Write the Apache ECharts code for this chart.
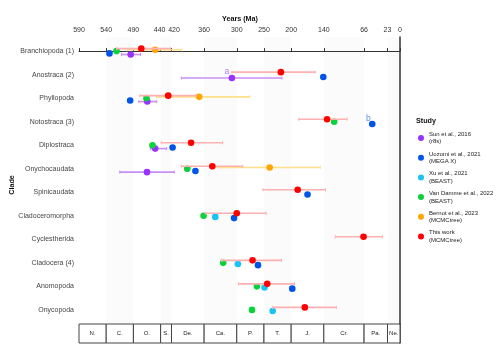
<!DOCTYPE html>
<html><head><meta charset="utf-8">
<script src="https://cdn.jsdelivr.net/npm/echarts@6/dist/echarts.min.js"></script>
<style>html,body{margin:0;padding:0;background:#fff}#c{width:504px;height:360px}</style>
</head><body><div id="c"></div>
<script>
const clades = ['Branchiopoda (1)','Anostraca (2)','Phyllopoda','Notostraca (3)','Diplostraca','Onychocaudata','Spinicaudata','Cladoceromorpha','Cyclestherida','Cladocera (4)','Anomopoda','Onycopoda'];
const xTicks = [590,540,490,440,420,360,300,250,200,140,66,23,0];
const periodNames = ['N.','C.','O.','S.','De.','Ca.','P.','T.','J.','Cr.','Pa.','Ne.'];
const periodStart = [590,540,490,440,420,360,300,250,200,140,66,23];
const periodEnd   = [540,490,440,420,360,300,250,200,140,66,23,0];

// [clade, estimate (Ma), lower, upper]
const sun2016 = [
  ['Branchiopoda (1)',495,512,477],
  ['Anostraca (2)',309,402,217],
  ['Phyllopoda',464.5,480,447],
  ['Diplostraca',450,459,429],
  ['Onychocaudata',465,515,415]
];
const uozomi2021 = [
  ['Branchiopoda (1)',534],['Anostraca (2)',141],['Phyllopoda',496],['Notostraca (3)',51],
  ['Diplostraca',418],['Onychocaudata',376],['Spinicaudata',170],['Cladoceromorpha',305],
  ['Cladocera (4)',261],['Anomopoda',198]
];
const xu2021 = [
  ['Cladoceromorpha',339.5],['Cladocera (4)',298],['Anomopoda',249],['Onycopoda',234]
];
const vanDamme2022 = [
  ['Branchiopoda (1)',521],['Phyllopoda',466],['Notostraca (3)',121],['Diplostraca',455],
  ['Onychocaudata',391],['Cladoceromorpha',361],['Cladocera (4)',325],['Anomopoda',263],['Onycopoda',272]
];
const bernot2023 = [
  ['Branchiopoda (1)',450,502,401],
  ['Phyllopoda',369,447,276],
  ['Onychocaudata',239.5,343,146.5]
];
const thisWork = [
  ['Branchiopoda (1)',475.5,521,421.5],
  ['Anostraca (2)',219,309,156],
  ['Phyllopoda',426,478,375],
  ['Notostraca (3)',134,186,97],
  ['Diplostraca',384,439,326],
  ['Onychocaudata',345,402,289],
  ['Spinicaudata',188,252,137],
  ['Cladoceromorpha',300,358,246],
  ['Cyclestherida',67,119,32],
  ['Cladocera (4)',271,328,218],
  ['Anomopoda',244,297,194],
  ['Onycopoda',175,234,117]
];
const studyNames = ['Sun et al., 2016\n(r8s)','Uozomi et al., 2021\n(MEGA X)','Xu et al., 2021\n(BEAST)','Van Damme et al., 2022\n(BEAST)','Bernot et al., 2023\n(MCMCtree)','This work\n(MCMCtree)'];
const notes = [['a','Anostraca (2)',318],['b','Notostraca (3)',58]];

const FONT = 'Liberation Sans, Arial, sans-serif';
const studies = [
  {name: studyNames[0], data: sun2016, color: '#9933FF', bar: '#C890F3', off: 3.4},
  {name: studyNames[1], data: uozomi2021, color: '#0055E8', bar: '#8AAEF0', off: 2.3},
  {name: studyNames[2], data: xu2021, color: '#19C3F3', bar: '#9ADFF5', off: 1.1},
  {name: studyNames[3], data: vanDamme2022, color: '#0BD13A', bar: '#95E8A8', off: 0},
  {name: studyNames[4], data: bernot2023, color: '#FFA500', bar: '#FFE08A', off: -1.3},
  {name: studyNames[5], data: thisWork, color: '#FF0000', bar: '#FFB0B0', off: -2.5}
];

function studySeries(s) {
  return {
    type: 'custom', name: s.name, xAxisIndex: 0, yAxisIndex: 0,
    itemStyle: {color: s.color},
    encode: {x: [0, 2, 3], y: 1},
    z: s.off < -2 ? 10 : 5,
    data: s.data.map(d => [d[1], clades.indexOf(d[0]), d.length > 2 ? d[2] : NaN, d.length > 2 ? d[3] : NaN]),
    renderItem: function (params, api) {
      const est = api.value(0), idx = api.value(1), lo = api.value(2), hi = api.value(3);
      const p = api.coord([est, idx]);
      const y = p[1] + s.off;
      const ch = [];
      if (isFinite(lo) && isFinite(hi)) {
        const a = api.coord([lo, idx])[0], b = api.coord([hi, idx])[0];
        const st = {stroke: s.bar, lineWidth: 1.6};
        ch.push({type: 'line', shape: {x1: a, y1: y, x2: b, y2: y}, style: st});
        ch.push({type: 'line', shape: {x1: a, y1: y - 1.6, x2: a, y2: y + 1.6}, style: {stroke: s.bar, lineWidth: 1}});
        ch.push({type: 'line', shape: {x1: b, y1: y - 1.6, x2: b, y2: y + 1.6}, style: {stroke: s.bar, lineWidth: 1}});
      }
      ch.push({type: 'circle', shape: {cx: p[0], cy: y, r: 3.3}, style: {fill: s.color}});
      return {type: 'group', children: ch};
    }
  };
}

const bandSeries = {
  type: 'custom', xAxisIndex: 0, yAxisIndex: 0, silent: true, z: 0,
  data: periodStart.map((v, i) => [v, periodEnd[i], i]),
  encode: {x: [0, 1]},
  renderItem: function (params, api) {
    const a = api.coord([api.value(0), -0.6]);
    const b = api.coord([api.value(1), 11.6]);
    return {type: 'rect', shape: {x: a[0], y: a[1], width: b[0] - a[0], height: b[1] - a[1]},
      style: {fill: api.value(2) % 2 === 1 ? '#fbfbfb' : '#ffffff'}};
  }
};

const periodSeries = {
  type: 'custom', xAxisIndex: 1, yAxisIndex: 1, silent: true,
  data: periodStart.map((v, i) => [v, periodEnd[i], i]),
  encode: {x: [0, 1]},
  renderItem: function (params, api) {
    const a = api.coord([api.value(0), 1]);
    const b = api.coord([api.value(1), 0]);
    return {type: 'group', children: [
      {type: 'rect', shape: {x: a[0], y: a[1], width: b[0] - a[0], height: b[1] - a[1]},
        style: {fill: '#fff', stroke: '#444', lineWidth: 1}},
      {type: 'text', style: {x: (a[0] + b[0]) / 2, y: (a[1] + b[1]) / 2, text: periodNames[api.value(2)],
        align: 'center', verticalAlign: 'middle', fontSize: 6, fontFamily: FONT, fill: '#222'}}
    ]};
  }
};

const noteColors = {a: '#B57BEA', b: '#5B8DEF'};
const noteSeries = {
  type: 'custom', xAxisIndex: 0, yAxisIndex: 0, silent: true, z: 12,
  data: notes.map(n => [n[2], clades.indexOf(n[1]), n[0]]),
  encode: {x: 0, y: 1},
  renderItem: function (params, api) {
    const p = api.coord([api.value(0), api.value(1)]);
    const t = notes[params.dataIndex][0];
    return {type: 'text', style: {x: p[0], y: p[1] - 3, text: t, align: 'center', verticalAlign: 'middle',
      fontSize: 8.5, fontFamily: FONT, fill: noteColors[t]}};
  }
};

const chart = echarts.init(document.getElementById('c'), null, {renderer: 'canvas'});
chart.setOption({
  animation: false,
  backgroundColor: '#fff',
  textStyle: {fontFamily: FONT},
  grid: [
    {left: 79, right: 104, top: 37, height: 287},
    {left: 79, right: 104, top: 324, height: 19}
  ],
  xAxis: [
    {type: 'value', gridIndex: 0, position: 'top', inverse: true, min: 0, max: 590,
      axisLine: {show: true, lineStyle: {color: '#333', width: 1}},
      axisTick: {show: true, length: 3, customValues: xTicks, lineStyle: {color: '#333'}},
      axisLabel: {customValues: xTicks, fontSize: 7, color: '#333', margin: 3, fontFamily: FONT,
        hideOverlap: false,
        formatter: v => v === 420 ? '{r|420}' : (v === 440 ? '{l|440}' : String(v)),
        rich: {r: {fontSize: 7, color: '#333', padding: [0, 0, 0, 5]}, l: {fontSize: 7, color: '#333', padding: [0, 2, 0, 0]}}},
      splitLine: {show: false}},
    {type: 'value', gridIndex: 1, inverse: true, min: 0, max: 590, show: false}
  ],
  yAxis: [
    {type: 'value', gridIndex: 0, inverse: true, min: -0.6, max: 11.6,
      axisLine: {show: true, lineStyle: {color: '#333', width: 1.5}},
      axisTick: {show: false},
      axisLabel: {customValues: clades.map((c, i) => i), formatter: v => clades[v] || '',
        fontSize: 7, color: '#444', margin: 5, fontFamily: FONT},
      splitLine: {show: false}},
    {type: 'value', gridIndex: 1, min: 0, max: 1,
      axisLine: {show: true, lineStyle: {color: '#333', width: 1.5}},
      axisTick: {show: false}, axisLabel: {show: false}, splitLine: {show: false}}
  ],
  legend: {
    orient: 'vertical', left: 418, top: 130.5, padding: 0, itemGap: 4.7,
    itemWidth: 6, itemHeight: 6, icon: 'circle', selectedMode: false,
    textStyle: {fontSize: 6, lineHeight: 7.5, color: '#222', fontFamily: FONT},
    data: studyNames
  },
  graphic: [
    {type: 'text', x: 240, y: 19, style: {text: 'Years (Ma)', align: 'center', verticalAlign: 'middle',
      fontSize: 7.2, fontWeight: 'bold', fill: '#111', fontFamily: FONT}},
    {type: 'text', x: 12, y: 185, rotation: Math.PI / 2, style: {text: 'Clade', align: 'center', verticalAlign: 'middle',
      fontSize: 7.2, fontWeight: 'bold', fill: '#111', fontFamily: FONT}},
    {type: 'text', x: 416, y: 121, style: {text: 'Study', align: 'left', verticalAlign: 'middle',
      fontSize: 7.2, fontWeight: 'bold', fill: '#111', fontFamily: FONT}}
  ],
  series: [bandSeries, periodSeries].concat(studies.map(studySeries)).concat([noteSeries])
});
</script></body></html>
